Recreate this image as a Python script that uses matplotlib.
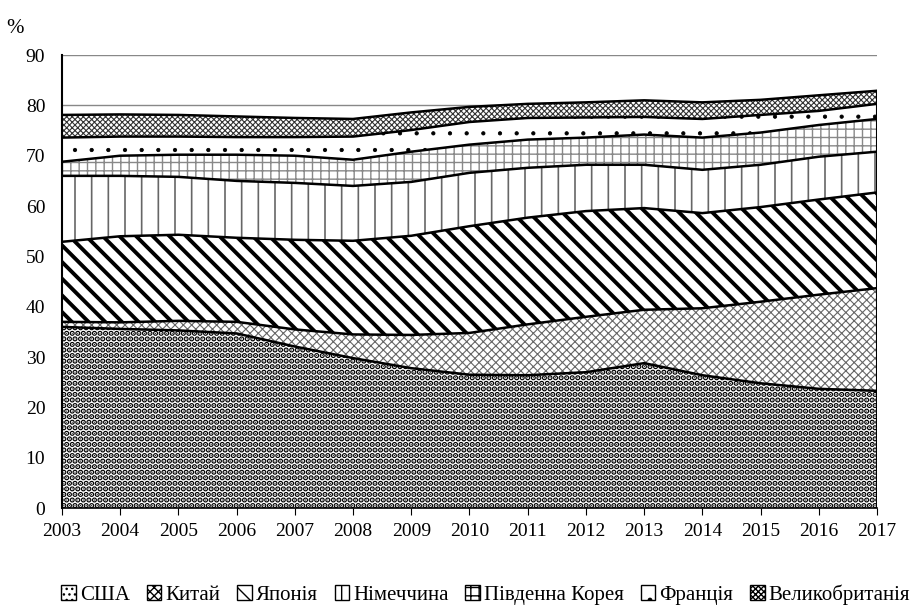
import numpy as np
import matplotlib
matplotlib.use("Agg")
import matplotlib.pyplot as plt
from matplotlib.patches import Patch

plt.rcParams['font.family'] = 'serif'
plt.rcParams['font.serif'] = ['Liberation Serif', 'DejaVu Serif']
plt.rcParams['font.size'] = 14

years = list(range(2003, 2018))
countries = ["США", "Китай", "Японія", "Німеччина", "Південна Корея", "Франція", "Великобританія"]

usa     = [36.0, 35.6, 35.3, 34.7, 32.1, 29.8, 27.8, 26.5, 26.4, 27.0, 28.8, 26.4, 24.8, 23.7, 23.3]
china   = [1.0, 1.3, 1.9, 2.3, 3.4, 4.7, 6.6, 8.3, 10.1, 11.0, 10.6, 13.3, 16.2, 18.7, 20.4]
japan   = [15.9, 17.1, 17.1, 16.7, 17.8, 18.6, 19.7, 21.2, 21.2, 21.0, 20.2, 18.9, 18.8, 18.9, 19.0]
germany = [13.1, 12.0, 11.5, 11.3, 11.3, 10.9, 10.7, 10.6, 9.9, 9.2, 8.6, 8.6, 8.4, 8.5, 8.1]
korea   = [2.8, 4.0, 4.4, 5.2, 5.4, 5.2, 6.0, 5.6, 5.6, 5.4, 6.0, 6.4, 6.4, 6.3, 6.5]
france  = [4.8, 3.8, 3.6, 3.5, 3.7, 4.6, 4.3, 4.5, 4.3, 4.0, 3.5, 3.7, 3.5, 2.8, 3.0]
uk      = [4.5, 4.4, 4.3, 4.1, 3.8, 3.5, 3.5, 3.0, 2.8, 3.0, 3.3, 3.3, 3.0, 3.1, 2.6]

# hatch, hatch colour, hatch linewidth
styles = [
    ("...", "black", 2.8),
    ("xxxx", "#666666", 0.8),
    ("\\\\", "black", 2.8),
    ("|", "#666666", 1.2),
    ("++", "#888888", 1.0),
    (".", "black", 0.6),
    ("xxxxxx", "#333333", 0.8),
]

series = np.array([usa, china, japan, germany, korea, france, uk])
tops = np.cumsum(series, axis=0)
x = np.arange(len(years))

fig = plt.figure(figsize=(9.22, 6.10), dpi=100)
ax = fig.add_axes([0.0672, 0.167, 0.884, 0.7428])

ax.set_axisbelow(True)
ax.yaxis.grid(True, color="#888888", lw=1)

bottom = np.zeros(len(years))
for i in range(len(series)):
    hatch, hc, hlw = styles[i]
    plt.rcParams['hatch.linewidth'] = hlw
    coll = ax.fill_between(x, bottom, tops[i], facecolor="white", edgecolor=hc,
                           hatch=hatch, linewidth=0, zorder=2)
    try:
        coll.set_hatch_linewidth(hlw)
    except AttributeError:
        pass
    ax.plot(x, tops[i], color="black", lw=1.8, zorder=3)
    bottom = tops[i]

ax.plot([x[-1], x[-1]], [0, tops[-1][-1]], color="black", lw=1.5, zorder=3)

ax.set_xlim(x[0], x[-1])
ax.set_ylim(0, 90)
ax.set_yticks(range(0, 91, 10))
ax.set_xticks(x)
ax.set_xticklabels([str(y) for y in years])
for s in ["top", "right"]:
    ax.spines[s].set_visible(False)
ax.spines["left"].set_linewidth(1.5)
ax.spines["bottom"].set_linewidth(1.2)
ax.tick_params(axis="y", length=0, pad=12, labelsize=14)
ax.tick_params(axis="x", length=5, direction="out", pad=6, labelsize=14)

fig.text(0.007, 0.946, "%", fontsize=15)

plt.rcParams['hatch.linewidth'] = 1.0
handles = []
for i in range(len(series)):
    hatch, hc, hlw = styles[i]
    handles.append(Patch(facecolor="white", edgecolor="black", hatch=hatch, lw=1))
fig.legend(handles, countries, loc="lower center", bbox_to_anchor=(0.527, -0.012),
           ncol=7, frameon=False, handlelength=0.7, handleheight=0.7,
           handletextpad=0.2, columnspacing=0.8, fontsize=15, borderaxespad=0.2)

fig.savefig("out.png", dpi=100)
